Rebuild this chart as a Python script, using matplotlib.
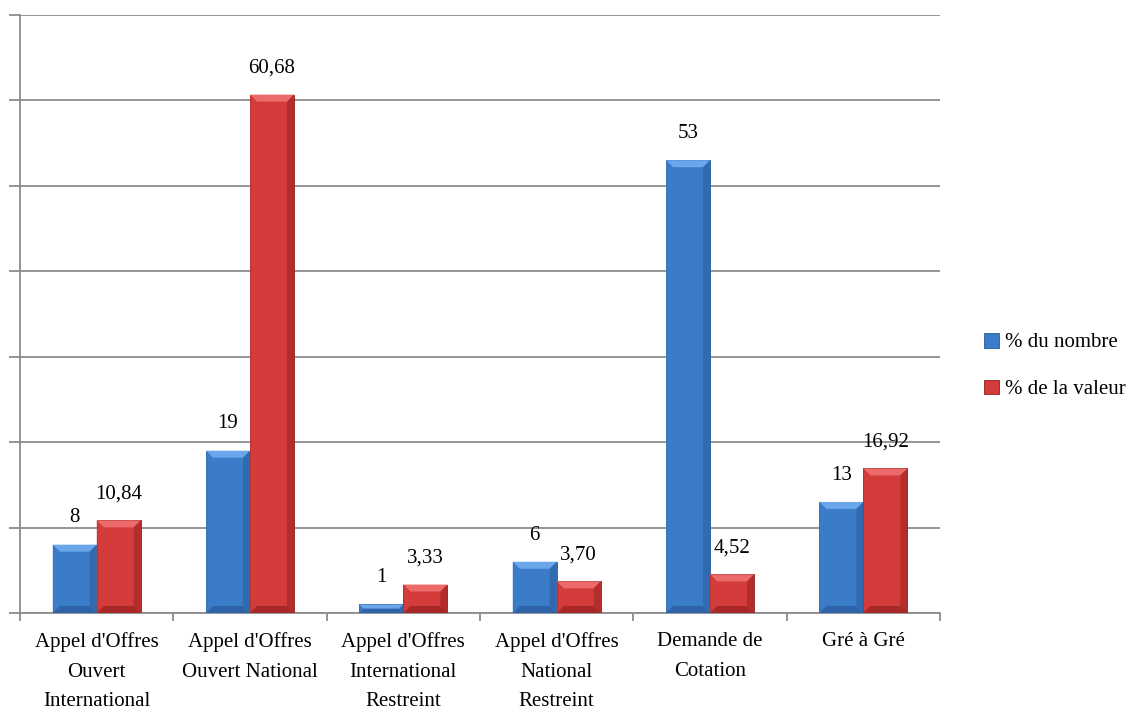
import numpy as np
import matplotlib
matplotlib.use("Agg")
import matplotlib.pyplot as plt
from matplotlib.patches import Polygon, Patch

plt.rcParams['font.family'] = 'serif'
plt.rcParams['font.serif'] = ['Liberation Serif', 'Times New Roman', 'DejaVu Serif']

categories = ["Appel d'Offres\nOuvert\nInternational", "Appel d'Offres\nOuvert National",
              "Appel d'Offres\nInternational\nRestreint", "Appel d'Offres\nNational\nRestreint",
              "Demande de\nCotation", "Gré à Gré"]
nombre = [8, 19, 1, 6, 53, 13]
valeur = [10.84, 60.68, 3.33, 3.70, 4.52, 16.92]
nombre_labels = ["8", "19", "1", "6", "53", "13"]
valeur_labels = ["10,84", "60,68", "3,33", "3,70", "4,52", "16,92"]
series_names = ["% du nombre", "% de la valeur"]

W, H = 1131, 713
fig = plt.figure(figsize=(W / 100, H / 100), dpi=100)
ax = fig.add_axes([20 / W, 100 / H, 920 / W, 598 / H])
ax.set_xlim(-0.5, 5.5)
ax.set_ylim(0, 70)

grey = '#8c8c8c'
fs = 15
ax.set_yticks(np.arange(0, 71, 10))
ax.set_yticklabels([])
ax.yaxis.grid(True, color=grey, linewidth=1.3)
ax.set_axisbelow(True)
ax.tick_params(axis='y', length=8, color=grey, width=1.3)
ax.set_xticks(np.arange(-0.5, 5.6, 1))
ax.set_xticklabels([])
ax.set_xticks(np.arange(6), minor=True)
ax.set_xticklabels(categories, minor=True, fontsize=fs, linespacing=1.75)
ax.tick_params(axis='x', which='major', length=6, color=grey, width=1.3)
ax.tick_params(axis='x', which='minor', length=0, pad=14)
for s in ['top', 'right']:
    ax.spines[s].set_visible(False)
for s in ['left', 'bottom']:
    ax.spines[s].set_color(grey)
    ax.spines[s].set_linewidth(1.3)

px_x = 920 / 6.0
px_y = 598 / 70.0
bw = 44 / px_x
x = np.arange(len(categories))

styles = [
    dict(face='#3b7cc9', light='#6aa6ea', dark='#2b5f9f', edge='#2a5a95'),
    dict(face='#d43b3b', light='#ec6a6a', dark='#9d2424', edge='#8a2020'),
]


def bevel_bars(xs, heights, st):
    bars = ax.bar(xs, heights, bw, color=st['face'], edgecolor=st['edge'], linewidth=0.6, zorder=3)
    for b in bars:
        x0, y0 = b.get_x(), b.get_y()
        w, h = b.get_width(), b.get_height()
        d = min(7, h * px_y / 2, w * px_x / 2)
        dx, dy = d / px_x, d / px_y
        x1, y1 = x0 + w, y0 + h
        ax.add_patch(Polygon([(x0, y1), (x1, y1), (x1 - dx, y1 - dy), (x0 + dx, y1 - dy)],
                             closed=True, facecolor=st['light'], edgecolor='none', zorder=4))
        ax.add_patch(Polygon([(x0, y0), (x0 + dx, y0 + dy), (x0 + dx, y1 - dy), (x0, y1)],
                             closed=True, facecolor=st['face'], edgecolor='none', alpha=0.6, zorder=4))
        ax.add_patch(Polygon([(x1, y0), (x1 - dx, y0 + dy), (x1 - dx, y1 - dy), (x1, y1)],
                             closed=True, facecolor=st['dark'], edgecolor='none', alpha=0.6, zorder=4))
        ax.add_patch(Polygon([(x0, y0), (x1, y0), (x1 - dx, y0 + dy), (x0 + dx, y0 + dy)],
                             closed=True, facecolor=st['dark'], edgecolor='none', alpha=0.8, zorder=4))
    return bars


b1 = bevel_bars(x - bw / 2, nombre, styles[0])
b2 = bevel_bars(x + bw / 2, valeur, styles[1])

for xs, vals, labs in [(x - bw / 2, nombre, nombre_labels), (x + bw / 2, valeur, valeur_labels)]:
    for xi, v, lab in zip(xs, vals, labs):
        ax.annotate(lab, (xi, v), xytext=(0, 16), textcoords='offset points',
                    ha='center', va='baseline', fontsize=fs)

handles = [Patch(facecolor=st['face'], edgecolor=st['edge'], linewidth=0.6) for st in styles]
fig.legend(handles, series_names, loc='center left', bbox_to_anchor=(984 / W, 1 - 366 / H),
           frameon=False, fontsize=fs, handlelength=0.72, handleheight=0.72,
           handletextpad=0.3, labelspacing=1.3, borderpad=0, borderaxespad=0)

fig.savefig('out.png', dpi=100)
